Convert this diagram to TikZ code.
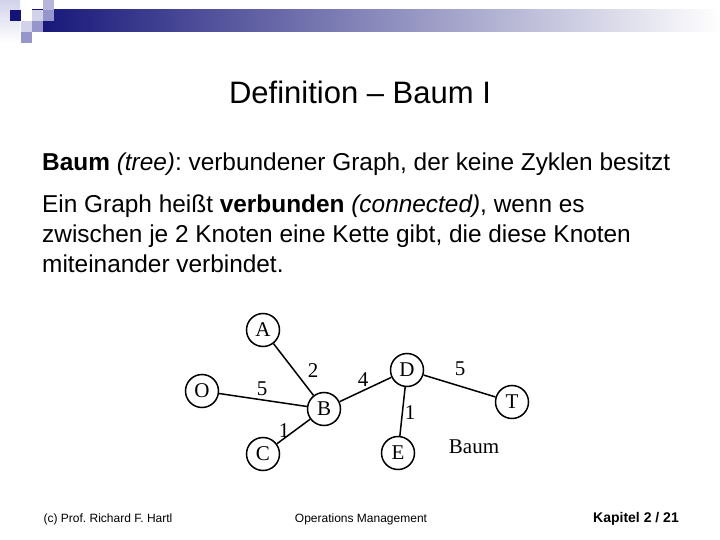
\documentclass[tikz,border=0pt]{standalone}
\usepackage{fontspec}
\setmainfont{Liberation Sans}
\newfontfamily\graphfont{Liberation Serif}
\frenchspacing
\definecolor{navy}{RGB}{20,20,120}
\definecolor{barmid}{RGB}{140,140,175}
\definecolor{pale}{RGB}{210,210,235}
\definecolor{lavender}{RGB}{150,150,205}
\begin{document}
\begin{tikzpicture}[x=1pt,y=-1pt,
  knoten/.style={circle,draw,line width=1.5pt,minimum size=33pt,inner sep=0pt,font=\graphfont\fontsize{21}{21}\selectfont},
  kante/.style={line width=1.5pt},
  gewicht/.style={font=\graphfont\fontsize{21}{21}\selectfont},
  zeile/.style={anchor=base west,inner sep=0pt,font=\fontsize{24.4}{28}\selectfont},
  fuss/.style={anchor=base,inner sep=0pt,font=\fontsize{12}{14}\selectfont}]
\useasboundingbox (0,0) rectangle (720,540);

% Kopfleiste
\shade[left color=navy,middle color=barmid,right color=white] (32,10) rectangle (720,32);
\shade[top color=pale,bottom color=white] (0,0) rectangle (20,43);
\fill[navy] (10,10) rectangle (21,21);
\fill[lavender!70] (43,-1) rectangle (54,10);
\fill[pale] (32,10) rectangle (43,21);
\fill[lavender] (43,10) rectangle (54,21);
\fill[pale] (21,21) rectangle (32,32);
\fill[lavender] (32,21) rectangle (43,32);
\fill[lavender] (21,32) rectangle (32,43);

% Titel
\node[anchor=base,inner sep=0pt,font=\fontsize{31}{36}\selectfont] (titel) at (360,104) {Definition -- Baum I};

% Text
\node[zeile] (z1) at (42,171) {\textbf{Baum} \textit{(tree)}: verbundener Graph, der keine Zyklen besitzt};
\node[zeile] (z2) at (42,212) {Ein Graph heißt \textbf{verbunden} \textit{(connected)}, wenn es};
\node[zeile] (z3) at (42,242) {zwischen je 2 Knoten eine Kette gibt, die diese Knoten};
\node[zeile] (z4) at (42,272) {miteinander verbindet.};

% Knoten
\node[knoten] (A) at (263,330) {A};
\node[knoten] (O) at (202,391) {O};
\node[knoten] (B) at (324,409) {B};
\node[knoten] (C) at (263,454) {C};
\node[knoten] (D) at (407,370) {D};
\node[knoten] (E) at (398,453) {E};
\node[knoten] (T) at (512,402) {T};

% Kanten
\draw[kante] (A) -- (B);
\draw[kante] (O) -- (B);
\draw[kante] (C) -- (B);
\draw[kante] (B) -- (D);
\draw[kante] (D) -- (E);
\draw[kante] (D) -- (T);

% Gewichte
\node[gewicht] (wAB) at (313,371) {2};
\node[gewicht] (wOB) at (262,389) {5};
\node[gewicht] (wBD) at (363,380) {4};
\node[gewicht] (wCB) at (284,431) {1};
\node[gewicht] (wDE) at (410,413) {1};
\node[gewicht] (wDT) at (460,369) {5};
\node[gewicht] (baum) at (474,447) {Baum};

% Fusszeile
\node[fuss] (autor) at (108,522) {(c) Prof. Richard F. Hartl};
\node[fuss] (kurs) at (361,522) {Operations Management};
\node[fuss,anchor=base east,font=\fontsize{14}{16}\selectfont\bfseries] (seite) at (679,522) {Kapitel 2 / 21};
\end{tikzpicture}
\end{document}
